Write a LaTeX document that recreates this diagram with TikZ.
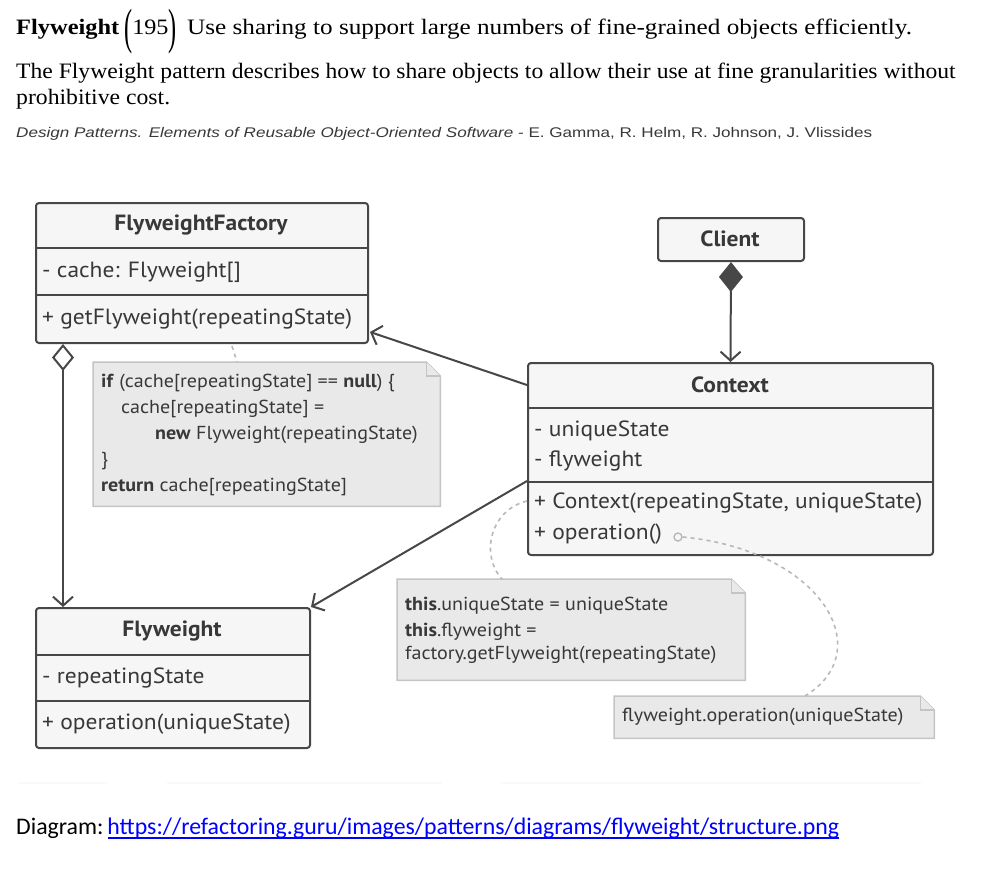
\documentclass[tikz,border=0pt]{standalone}
\usepackage{fontspec}
\setmainfont{Liberation Serif}
\newfontfamily\ptsans[FakeStretch=1.067]{PT Sans}
\newfontfamily\refsans{Liberation Sans}
\newfontfamily\carl{Carlito}
\usetikzlibrary{arrows.meta,calc}
\definecolor{lineC}{HTML}{474747}
\definecolor{boxC}{HTML}{F6F6F6}
\definecolor{txtC}{HTML}{383838}
\definecolor{noteF}{HTML}{E9E9E9}
\definecolor{noteD}{HTML}{C4C4C4}
\definecolor{dashC}{HTML}{B8B8B8}
\definecolor{linkC}{HTML}{0000FF}
\definecolor{faintC}{HTML}{F9F9F9}
\tikzset{
  cls/.style={draw=lineC, fill=boxC, line width=2pt, rounded corners=3pt, inner sep=0pt, anchor=north west},
  sep/.style={draw=lineC, line width=2.6pt},
  ctitle/.style={font=\ptsans\bfseries\fontsize{22}{26}\selectfont, text=txtC, inner sep=0pt},
  citem/.style={font=\ptsans\fontsize{22}{26}\selectfont, text=txtC, inner sep=0pt, anchor=west},
  ntext/.style={font=\ptsans\fontsize{18.8}{22}\selectfont, text=txtC, inner sep=0pt, anchor=west},
  notebox/.style={draw=none, inner sep=0pt, anchor=north west},
  notepath/.style={draw=noteD, fill=noteF, line width=1.5pt},
  rel/.style={draw=lineC, line width=2pt},
  openarr/.style={-{Straight Barb[length=9pt,width=20pt,line width=2pt]}},
  dashln/.style={draw=dashC, line width=1.6pt, dash pattern=on 4pt off 4pt},
  hdr/.style={inner sep=0pt, anchor=base west}
}
\newcommand\bigparen[1]{\raisebox{-0.42em}{\scalebox{1}[2.25]{#1}}}
\begin{document}
\begin{tikzpicture}[x=1pt,y=-1pt]
\useasboundingbox (0,0) rectangle (984,870);
% header text
\node[hdr, font=\bfseries\fontsize{22}{26}\selectfont] (t1) at (16,34) {\scalebox{1.11}[1]{Flyweight}};
\node[hdr, font=\fontsize{22}{26}\selectfont] (t2) at (124,34) {\scalebox{1.1}[1]{\bigparen{(}195\bigparen{)}}};
\node[hdr, font=\fontsize{22}{26}\selectfont] (t3) at (187,34) {\scalebox{1.145}[1]{Use sharing to support large numbers of fine-grained objects efficiently.}};
\node[hdr, font=\fontsize{22}{26}\selectfont] (t4) at (16,78) {\scalebox{1.073}[1]{The Flyweight pattern describes how to share objects to allow their use at fine granularities without}};
\node[hdr, font=\fontsize{22}{26}\selectfont] (t5) at (16,104) {\scalebox{1.077}[1]{prohibitive cost.}};
\node[hdr, font=\refsans\fontsize{14}{17}\selectfont, text=txtC] (t6) at (16,137) {\scalebox{1.22}[1]{\textit{Design Patterns. Elements of Reusable Object-Oriented  Software} - E. Gamma, R. Helm, R. Johnson, J. Vlissides}};

% faint separators
\fill[faintC] (19,782) rectangle (107,784);
\fill[faintC] (167,782) rectangle (442,784);
\fill[faintC] (501,782) rectangle (921,784);

% FlyweightFactory
\node[cls, minimum width=332pt, minimum height=140pt] (ff) at (35,202) {};
\draw[sep] (35,248) -- (367,248);
\draw[sep] (35,295) -- (367,295);
\node[ctitle] (fft) at (201,225) {FlyweightFactory};
\node[citem] (ff1) at (42,272) {- cache: Flyweight[]};
\node[citem] (ff2) at (42,319) {+ getFlyweight(repeatingState)};

% Client
\node[cls, minimum width=146pt, minimum height=43pt] (cl) at (657,217) {};
\node[ctitle] (clt) at (730,239) {Client};

% Context
\node[cls, minimum width=405pt, minimum height=192pt] (cx) at (527,362) {};
\draw[sep] (527,408) -- (932,408);
\draw[sep] (527,482) -- (932,482);
\node[ctitle] (cxt) at (730,385) {Context};
\node[citem] (cx1) at (534,431) {- uniqueState};
\node[citem] (cx2) at (534,461) {- flyweight};
\node[citem] (cx3) at (534,503) {+ Context(repeatingState, uniqueState)};
\node[citem] (cx4) at (534,534) {+ operation()};

% Flyweight
\node[cls, minimum width=274pt, minimum height=140pt] (fw) at (35,607) {};
\draw[sep] (35,655) -- (309,655);
\draw[sep] (35,701) -- (309,701);
\node[ctitle] (fwt) at (172,631) {Flyweight};
\node[citem] (fw1) at (42,678) {- repeatingState};
\node[citem] (fw2) at (42,724) {+ operation(uniqueState)};

% Note 1
\node[notebox, minimum width=347pt, minimum height=144pt] (n1) at (93,362) {};
\path[notepath] (n1.north west) -- ($(n1.north east)+(-14,0)$) -- ($(n1.north east)+(0,14)$) -- (n1.south east) -- (n1.south west) -- cycle;
\path[notepath] ($(n1.north east)+(-14,0)$) -- ($(n1.north east)+(-14,14)$) -- ($(n1.north east)+(0,14)$);
\node[ntext] (n1a) at (101,383) {\textbf{if} (cache[repeatingState] == \textbf{null}) \{};
\node[ntext] (n1b) at (121,409) {cache[repeatingState] =};
\node[ntext] (n1c) at (155,435) {\textbf{new} Flyweight(repeatingState)};
\node[ntext] (n1d) at (101,461) {\}};
\node[ntext] (n1e) at (101,487) {\textbf{return} cache[repeatingState]};

% Note 2
\node[notebox, minimum width=348pt, minimum height=101pt] (n2) at (397,579) {};
\path[notepath] (n2.north west) -- ($(n2.north east)+(-14,0)$) -- ($(n2.north east)+(0,14)$) -- (n2.south east) -- (n2.south west) -- cycle;
\path[notepath] ($(n2.north east)+(-14,0)$) -- ($(n2.north east)+(-14,14)$) -- ($(n2.north east)+(0,14)$);
\node[ntext] (n2a) at (405,606) {\textbf{this}.uniqueState = uniqueState};
\node[ntext] (n2b) at (405,632) {\textbf{this}.flyweight =};
\node[ntext] (n2c) at (405,655) {factory.getFlyweight(repeatingState)};

% Note 3
\node[notebox, minimum width=320pt, minimum height=42pt] (n3) at (614,696) {};
\path[notepath] (n3.north west) -- ($(n3.north east)+(-14,0)$) -- ($(n3.north east)+(0,14)$) -- (n3.south east) -- (n3.south west) -- cycle;
\path[notepath] ($(n3.north east)+(-14,0)$) -- ($(n3.north east)+(-14,14)$) -- ($(n3.north east)+(0,14)$);
\node[ntext] (n3a) at (622,717) {flyweight.operation(uniqueState)};

% connectors
\draw[rel, {Diamond[length=30pt,width=24pt]}-{Straight Barb[length=9pt,width=20pt,line width=2pt]}, fill=lineC] (cl.south) -- (cx.north);
\draw[rel, {Diamond[open,length=27pt,width=22pt,line width=2pt]}-{Straight Barb[length=9pt,width=20pt,line width=2pt]}] (ff.south west -| 63,0) -- (fw.north west -| 63,0);
\draw[rel, openarr] ($(cx.north west)+(0,23)$) -- ($(ff.south east)+(1,-12)$);
\draw[rel, openarr] ($(cx.north west)+(0,119)$) -- (fw.north east);

\node[circle, draw=dashC, line width=1.4pt, minimum size=8pt, inner sep=0pt] (opc) at (678,537) {};
\draw[dashln] ($(ff.south west)+(197,2)$) -- ($(n1.north west)+(144,0)$);
\draw[dashln] ($(cx.north west)+(0,139)$) .. controls (490,510) and (480,555) .. ($(n2.north west)+(105,0)$);
\draw[dashln] (opc.east) .. controls (820,550) and (880,650) .. ($(n3.north west)+(191,0)$);

% footer
\node[hdr, font=\carl\fontsize{23.8}{28}\selectfont] (d1) at (16,834) {Diagram:\,\textcolor{linkC}{https://refactoring.guru/images/patterns/diagrams/flyweight/structure.png}};
\coordinate (ulA) at (108,838);
\draw[linkC, line width=1.3pt] (ulA) -- (d1.base east |- ulA);
\end{tikzpicture}
\end{document}
